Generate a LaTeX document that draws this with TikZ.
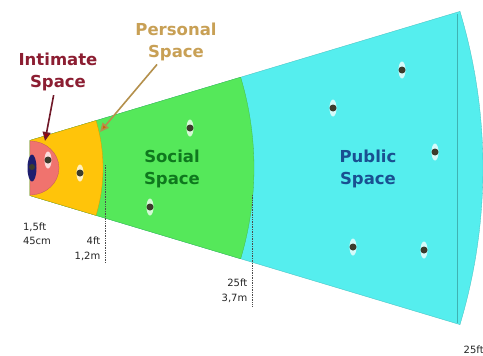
\documentclass[tikz,border=0pt]{standalone}
\usepackage{fontspec}
\setmainfont{DejaVu Sans}
\usetikzlibrary{arrows.meta,shapes.geometric}
\definecolor{publiccyan}{RGB}{85,238,238}
\definecolor{socialgreen}{RGB}{85,232,90}
\definecolor{personalgold}{RGB}{255,196,10}
\definecolor{intimatepink}{RGB}{240,115,110}
\definecolor{intimatered}{RGB}{140,30,50}
\definecolor{personaltan}{RGB}{200,160,85}
\definecolor{socialdark}{RGB}{15,120,30}
\definecolor{publicblue}{RGB}{25,80,145}
\definecolor{dotgray}{RGB}{60,60,45}
\definecolor{selfblue}{RGB}{30,30,110}

\begin{document}
\begin{tikzpicture}[x=1pt, y=-1pt, font=\bfseries\fontsize{16.5}{22}\selectfont,
  zone/.style={draw=#1!80!black, line width=0.3pt, fill=#1},
  title/.style={align=center, inner sep=1pt},
  dim/.style={font=\fontsize{10}{14.5}\selectfont, text=black!85, inner sep=0.5pt},
  guide/.style={draw=black!70, densely dotted, line width=0.7pt},
  person/.style={circle, fill=dotgray, minimum size=7, inner sep=0pt},
  halo/.style={fill=white, opacity=0.75},
  arr/.style={line width=1.6pt, shorten <=3pt}]
\useasboundingbox (0,0) rectangle (483,356);
\clip (0,0) rectangle (483,356);
\fill[white] (0,0) rectangle (483,356);

% the zones, outer one first
\coordinate (apex) at (-62,168);
\path[zone=publiccyan] ([shift={(-16.7:96)}]apex) -- ([shift={(-16.7:545)}]apex)
  arc[start angle=-16.7, end angle=16.7, radius=545] -- ([shift={(16.7:96)}]apex) -- cycle;
\draw[publiccyan!75!black, line width=0.4pt] (457,14) -- (457,323);
\path[zone=socialgreen] ([shift={(-16.7:96)}]apex) -- ([shift={(-16.7:316)}]apex)
  arc[start angle=-16.7, end angle=16.7, radius=316] -- ([shift={(16.7:96)}]apex) -- cycle;
\path[zone=personalgold] ([shift={(-16.7:96)}]apex) -- ([shift={(-16.7:165)}]apex)
  arc[start angle=-16.7, end angle=16.7, radius=165] -- ([shift={(16.7:96)}]apex) -- cycle;
\path[zone=intimatepink] (30,141) arc[start angle=-90, end angle=90, x radius=29, y radius=27] -- cycle;

% people
\node[ellipse, fill=selfblue, minimum width=9, minimum height=27, inner sep=0pt] (self) at (32,168) {};
\node[person, minimum size=6] (selfhead) at (32,167) {};
\foreach \px/\py [count=\i] in {48/160, 80/173, 190/128, 150/207, 333/108, 402/70, 435/152, 353/247, 424/250} {
  \fill[halo] (\px,\py) ellipse (3.5 and 8.5);
  \node[person] (p\i) at (\px,\py) {};
}

% labels
\node[title, text=intimatered] (intimate) at (58,72) {Intimate\\Space};
\node[title, text=personaltan] (personal) at (176,42) {Personal\\Space};
\node[title, text=socialdark] (social) at (172,169) {Social\\Space};
\node[title, text=publicblue] (public) at (368,169) {Public\\Space};
\coordinate (intimatetip) at (45,141);
\coordinate (personaltip) at (100,132);
\draw[arr, draw=intimatered!80!black, -{Triangle[length=9pt,width=8pt,fill=red!65!black]}] (intimate) -- (intimatetip);
\draw[arr, draw=personaltan!90!black, -{Triangle[length=9pt,width=8pt,fill=orange!80!black]}] (personal) -- (personaltip);

% distances
\coordinate (g4top) at (105,165);
\coordinate (g4bot) at (105,262);
\coordinate (g25top) at (252,195);
\coordinate (g25bot) at (252,306);
\draw[guide] (g4top) -- (g4bot);
\draw[guide] (g25top) -- (g25bot);
\node[dim, align=left] (d15) at (37,234) {1,5ft\\45cm};
\node[dim, align=right, anchor=east] (d4) at (101,249) {4ft\\1,2m};
\node[dim, align=right, anchor=east] (d25) at (248,291) {25ft\\3,7m};
\node[dim, anchor=west] (d25b) at (463,350) {25ft};
\end{tikzpicture}
\end{document}
